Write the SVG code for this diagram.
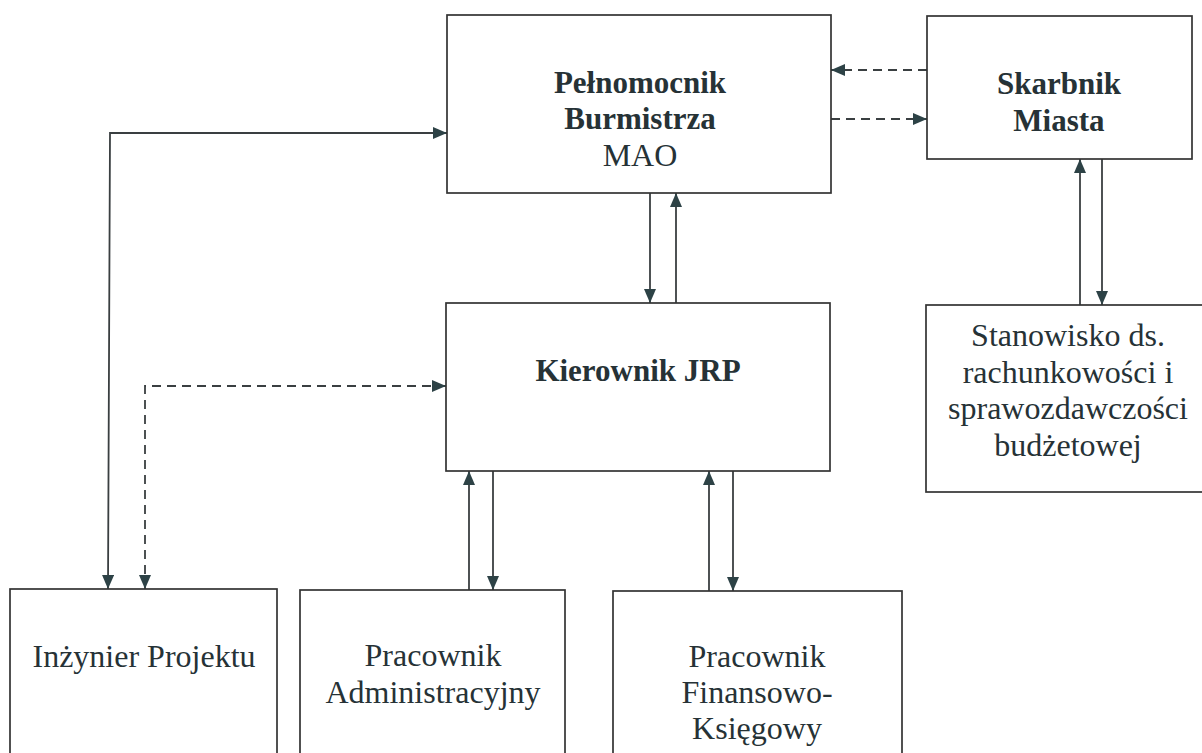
<svg xmlns="http://www.w3.org/2000/svg" width="1202" height="753" viewBox="0 0 1202 753">
<style>
.box{fill:#fff;stroke:#333;stroke-width:1.7}
.t{font-family:"Liberation Serif","Times New Roman",serif;font-size:32px;fill:#263236;text-anchor:middle}
.b{font-weight:bold;font-size:31px}
.c{fill:none;stroke:#3a3f41;stroke-width:1.8}
.d{stroke-dasharray:9 6}
</style>
<defs>
<marker id="ah" viewBox="0 0 14 12" refX="14" refY="6" markerWidth="14" markerHeight="12" markerUnits="userSpaceOnUse" orient="auto-start-reverse">
<path d="M0,0 L14,6 L0,12 z" fill="#2d4246"/>
</marker>
</defs>
<rect width="1202" height="753" fill="#fff"/>
<g id="connectors">
<path class="c" d="M108 589 L110 133 L447 133" marker-start="url(#ah)" marker-end="url(#ah)"/>
<path class="c d" d="M145 589 L145 386 L446 386" marker-start="url(#ah)" marker-end="url(#ah)"/>
<path class="c d" d="M927 70 L831 70" marker-end="url(#ah)"/>
<path class="c d" d="M831 119 L927 119" marker-end="url(#ah)"/>
<path class="c" d="M650 193 L650 303" marker-end="url(#ah)"/>
<path class="c" d="M676 303 L676 193" marker-end="url(#ah)"/>
<path class="c" d="M469 590 L469 471" marker-end="url(#ah)"/>
<path class="c" d="M493 471 L493 590" marker-end="url(#ah)"/>
<path class="c" d="M709 591 L709 471" marker-end="url(#ah)"/>
<path class="c" d="M733 471 L733 591" marker-end="url(#ah)"/>
<path class="c" d="M1080 305 L1080 159" marker-end="url(#ah)"/>
<path class="c" d="M1102 159 L1102 305" marker-end="url(#ah)"/>
</g>
<g id="pelnomocnik">
<rect class="box" x="447" y="15" width="384" height="178"/>
<text class="t b" x="640" y="93">Pełnomocnik</text>
<text class="t b" x="640" y="129">Burmistrza</text>
<text class="t" x="640" y="166">MAO</text>
</g>
<g id="skarbnik">
<rect class="box" x="927" y="16" width="265" height="143"/>
<text class="t b" x="1059" y="94">Skarbnik</text>
<text class="t b" x="1059" y="131">Miasta</text>
</g>
<g id="kierownik">
<rect class="box" x="446" y="303" width="384" height="168"/>
<text class="t b" x="638" y="381">Kierownik JRP</text>
</g>
<g id="stanowisko">
<rect class="box" x="926" y="305" width="285" height="187"/>
<text class="t" x="1068" y="346">Stanowisko ds.</text>
<text class="t" x="1068" y="383">rachunkowości i</text>
<text class="t" x="1068" y="419">sprawozdawczości</text>
<text class="t" x="1068" y="456">budżetowej</text>
</g>
<g id="inzynier">
<rect class="box" x="10" y="589" width="267" height="180"/>
<text class="t" x="144" y="667">Inżynier Projektu</text>
</g>
<g id="administracyjny">
<rect class="box" x="300" y="590" width="265" height="180"/>
<text class="t" x="433" y="666">Pracownik</text>
<text class="t" x="433" y="703">Administracyjny</text>
</g>
<g id="finansowy">
<rect class="box" x="613" y="591" width="289" height="180"/>
<text class="t" x="757" y="667">Pracownik</text>
<text class="t" x="757" y="703">Finansowo-</text>
<text class="t" x="757" y="739">Księgowy</text>
</g>
</svg>
